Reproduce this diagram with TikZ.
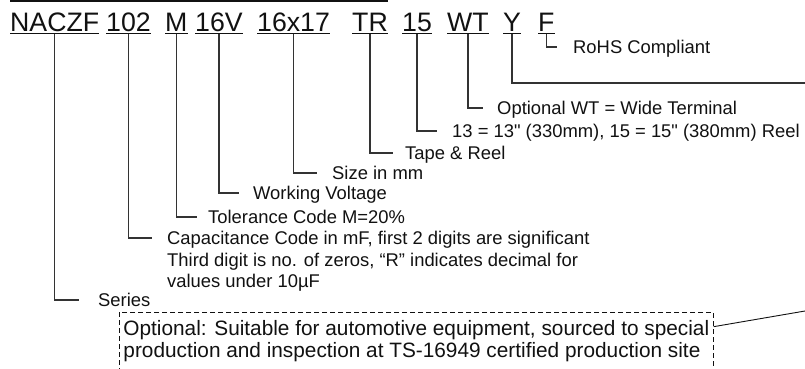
\documentclass[tikz,border=0pt]{standalone}
\usepackage{fontspec}
\setmainfont{Liberation Sans}[Ligatures=TeXOff]
\definecolor{ink}{HTML}{111111}
\definecolor{wire}{HTML}{333333}
\tikzset{
  code/.style={font=\fontsize{26.7}{32}\selectfont, inner sep=0pt, anchor=base west, text=ink},
  note/.style={font=\fontsize{18.4}{21.5}\selectfont, inner sep=0pt, anchor=base west, text=ink},
  leader/.style={draw=wire, line width=1.3pt},
}
% stem from an underlined code part to its note
\newcommand{\tick}[3]{%
  \draw[leader] ([yshift=-2.5pt]#1.base) |- ([xshift=-#3pt,yshift=6.6pt]#2.base west);}
\newcommand{\lines}[1]{\begin{tabular}[t]{@{}l@{}}#1\end{tabular}}

\begin{document}
\begin{tikzpicture}[x=1pt,y=-1pt]
  \clip (0,0) rectangle (805,368);
  \draw[ink, line width=2pt] (10,1) -- (388,1);
  \foreach \n/\x/\t in {naczf/10/NACZF, cval/106/102, tcode/165/M, volt/195/16V,
      size/257/16x17, tr/352/TR, reel/402/15, wt/447/WT, y/503/Y, f/538/F}{
    \node[code] (\n) at (\x,31) {\t};
    \draw[ink, line width=1pt] ([yshift=-2pt]\n.base west) -- ([yshift=-2pt]\n.base east);}
  \node[note] (rohsnote) at (573,53.6) {RoHS Compliant};
  \node[note] (wtnote) at (497,114.6) {Optional WT = Wide Terminal};
  \node[note] (reelnote) at (452,137.6) {13 = 13" (330mm), 15 = 15" (380mm) Reel};
  \node[note] (trnote) at (405,159.6) {Tape \& Reel};
  \node[note] (sizenote) at (332,179.6) {Size in mm};
  \node[note] (voltnote) at (253,199.6) {Working Voltage};
  \node[note] (tolnote) at (208,223.6) {Tolerance Code M=20\%};
  \node[note] (capnote) at (167,244.6) {\lines{Capacitance Code in mF, first 2 digits are significant\\
    Third digit is no. of zeros, “R” indicates decimal for\\values under 10µF}};
  \node[note] (seriesnote) at (98,306.6) {Series};
  \node[note, font=\fontsize{20.8}{22}\selectfont, draw=ink, line width=0.9pt,
        dash pattern=on 5pt off 3pt, inner xsep=4pt, inner ysep=8pt] (autonote) at (119,335.5)
    {\lines{Optional: Suitable for automotive equipment, sourced to special\\
     production and inspection at TS-16949 certified production site}};
  \coordinate (yexit) at (805,83);
  \coordinate (autoexit) at (805,311);
  \tick{f}{rohsnote}{16}
  \tick{wt}{wtnote}{14}
  \tick{reel}{reelnote}{15}
  \tick{tr}{trnote}{12}
  \tick{size}{sizenote}{15}
  \tick{volt}{voltnote}{14}
  \tick{tcode}{tolnote}{11}
  \tick{cval}{capnote}{15}
  \tick{naczf}{seriesnote}{19}
  \draw[leader] ([yshift=-2.5pt]y.base) |- (yexit);
  \draw[ink, line width=0.9pt] ([yshift=-15pt]autonote.north east) -- (autoexit);
\end{tikzpicture}
\end{document}
